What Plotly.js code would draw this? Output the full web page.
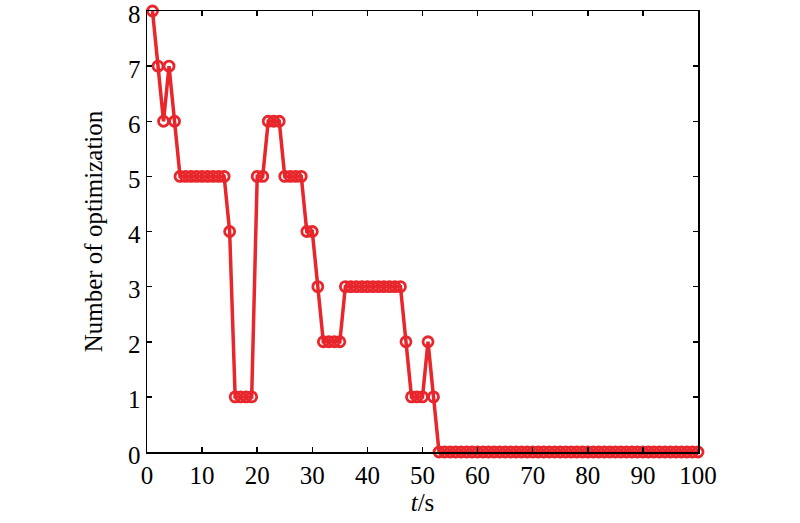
<!DOCTYPE html>
<html>
<head>
<meta charset="utf-8">
<script src="https://cdn.plot.ly/plotly-3.0.1.min.js"></script>
<style>
html,body{margin:0;padding:0;background:#fff;}
#chart{width:800px;height:523px;}
</style>
</head>
<body>
<div id="chart"></div>
<script>
// time steps t = 1..100 (s)
const tValues = [
  1,2,3,4,5,6,7,8,9,10,11,12,13,14,15,16,17,18,19,20,
  21,22,23,24,25,26,27,28,29,30,31,32,33,34,35,36,37,38,39,40,
  41,42,43,44,45,46,47,48,49,50,51,52,53,54,55,56,57,58,59,60,
  61,62,63,64,65,66,67,68,69,70,71,72,73,74,75,76,77,78,79,80,
  81,82,83,84,85,86,87,88,89,90,91,92,93,94,95,96,97,98,99,100
];
// number of optimization at each step
const optCount = [
  8,7,6,7,6,5,5,5,5,5,5,5,5,5,4,1,1,1,1,5,
  5,6,6,6,5,5,5,5,4,4,3,2,2,2,2,3,3,3,3,3,
  3,3,3,3,3,3,2,1,1,1,2,1,0,0,0,0,0,0,0,0,
  0,0,0,0,0,0,0,0,0,0,0,0,0,0,0,0,0,0,0,0,
  0,0,0,0,0,0,0,0,0,0,0,0,0,0,0,0,0,0,0,0
];
const xTicks = [0,10,20,30,40,50,60,70,80,90,100];
const yTicks = [0,1,2,3,4,5,6,7,8];
const yTickLabels = ['0','1','2','3','4','5','6','7','8'];

const red = '#e8262b';
const serif = '"Liberation Serif", "Times New Roman", serif';

const trace = {
  x: tValues,
  y: optCount,
  type: 'scatter',
  mode: 'lines+markers',
  line: {color: red, width: 3.5},
  marker: {symbol: 'circle-open', size: 10, color: red, line: {color: red, width: 2.8}},
  cliponaxis: false,
  hoverinfo: 'skip'
};

const axisCommon = {
  showgrid: false,
  zeroline: false,
  showline: true,
  mirror: 'ticks',
  linecolor: '#000',
  linewidth: 1.5,
  ticks: 'inside',
  ticklen: 5,
  tickwidth: 1.5,
  tickcolor: '#000',
  tickfont: {family: serif, size: 25, color: '#000'}
};

// y tick labels placed at the axis values (slightly lowered, as in the reference)
const yLabelAnnotations = yTicks.map((v, i) => ({
  xref: 'paper', yref: 'y',
  x: 0, y: v,
  xanchor: 'right', yanchor: 'middle',
  xshift: -5, yshift: -3,
  text: yTickLabels[i],
  showarrow: false,
  borderpad: 0,
  font: {family: serif, size: 25, color: '#000'}
}));

const layout = {
  width: 800,
  height: 523,
  paper_bgcolor: '#fff',
  plot_bgcolor: '#fff',
  margin: {l: 147, r: 102, t: 11, b: 71},
  showlegend: false,
  xaxis: Object.assign({}, axisCommon, {
    range: [0, 100],
    tickvals: xTicks,
    ticktext: xTicks.map(String),
    title: {text: '<i>t</i>/s', font: {family: serif, size: 25, color: '#000'}, standoff: 4}
  }),
  yaxis: Object.assign({}, axisCommon, {
    range: [0, 8],
    tickvals: yTicks,
    showticklabels: false,
    title: {text: 'Number of optimization', font: {family: serif, size: 25, color: '#000'}, standoff: 36}
  }),
  annotations: yLabelAnnotations
};

Plotly.newPlot('chart', [trace], layout, {displayModeBar: false, staticPlot: true});
</script>
</body>
</html>
